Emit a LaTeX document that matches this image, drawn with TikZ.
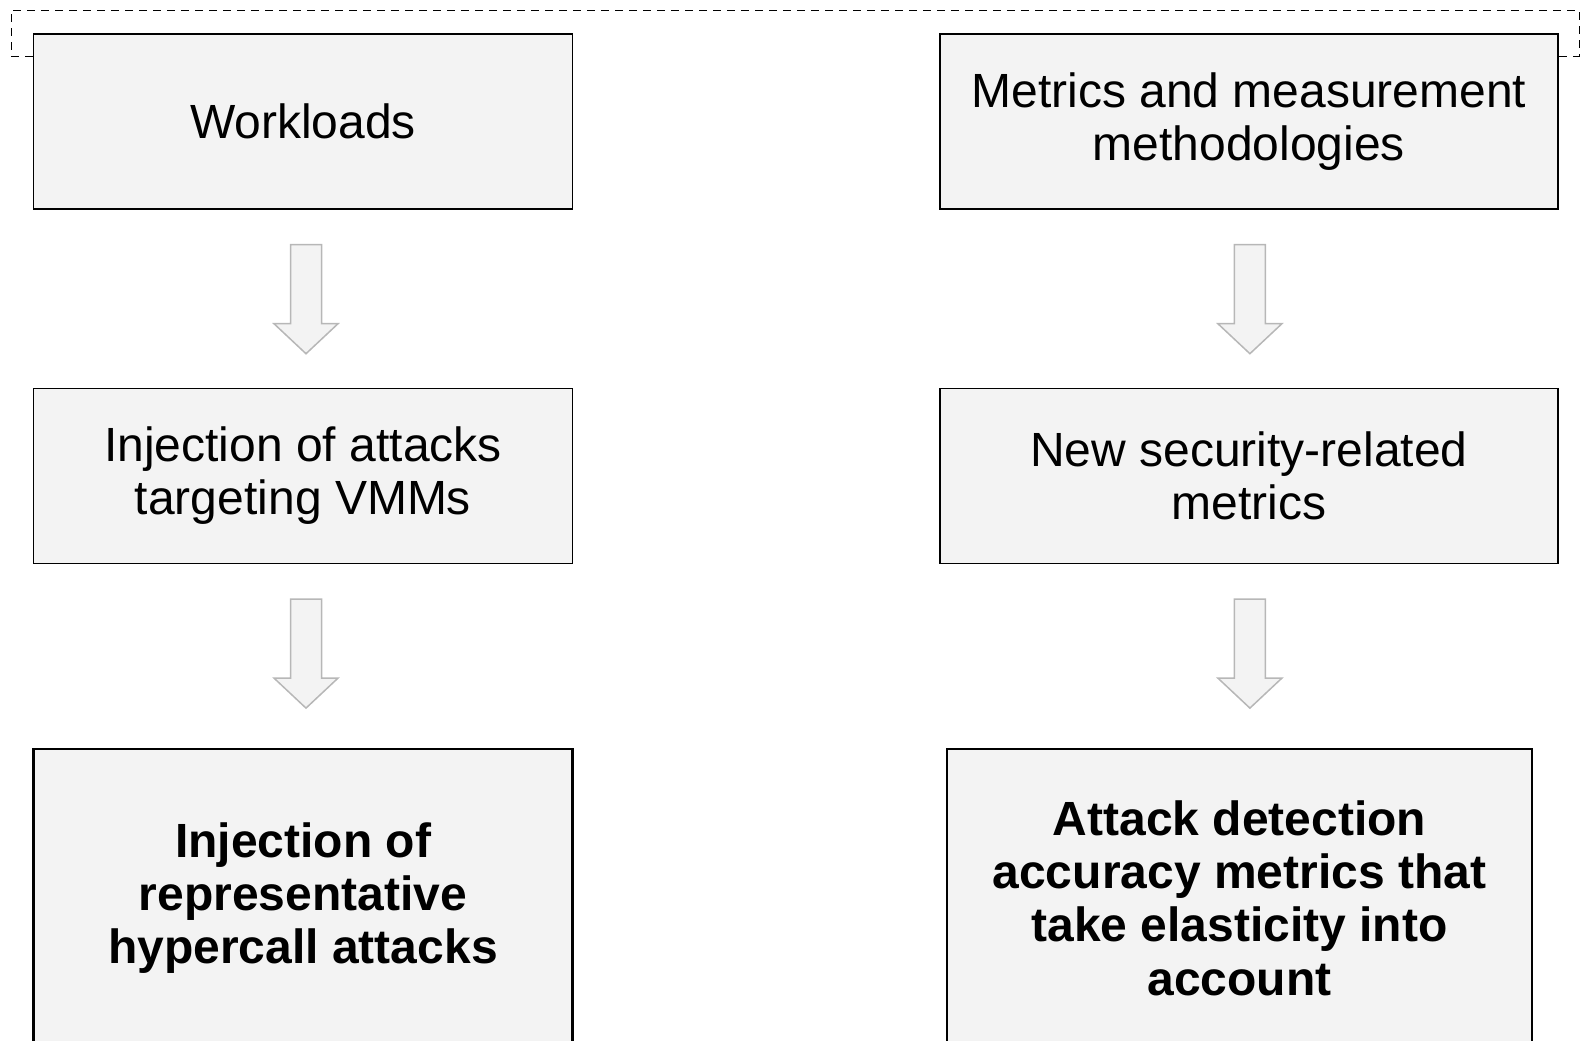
\documentclass[tikz,border=0pt]{standalone}
\usepackage{fontspec}
\setmainfont{Liberation Sans}
\usetikzlibrary{positioning,backgrounds}
\definecolor{boxgray}{HTML}{F3F3F3}
\definecolor{arrowgray}{HTML}{B7B7B7}

\begin{document}
\begin{tikzpicture}[node distance = 89pt and 183pt ,box/.style ={rectangle ,draw ,fill=boxgray ,line width=0.7pt ,align=center ,inner sep=0pt ,minimum width=269.5pt ,minimum height=87.5pt ,font=\fontsize{24}{26.4}\selectfont} ,result/.style ={box ,line width=1.1pt ,minimum height=149pt ,font=\fontsize{24}{26.6}\selectfont\bfseries} ,blockarrow/.style ={draw=arrowgray ,fill=boxgray ,line width=0.75pt} ,frame/.style ={draw ,line width=0.5pt ,dash pattern=on 4pt off 3pt}]
\useasboundingbox (0,0) rectangle (790.5pt,-520pt);
\coordinate (fb) at (0,-28pt);
\node[box] (W) at (151.5pt,-60.75pt) {Workloads};
\node[box] (I) [below = of W] {Injection of attacks\\targeting VMMs};
\node[result] (R) [below = 92pt of I] {Injection of\\representative\\hypercall attacks};
\node[box ,minimum width=309pt] (M) [right = of W] {Metrics and measurement\\methodologies};
\node[box ,minimum width=309pt] (N) [below = of M] {New security-related\\metrics};
\node[result ,minimum width=292.5pt] (A) [below = 92pt of N ,xshift=-4.75pt] {Attack detection\\accuracy metrics that\\take elasticity into\\account};
% dashed frame behind the top boxes
\begin{scope}[on background layer]
\path[frame] (W.west |- fb) -- (5.5pt,-28pt) |- (789.5pt,-5pt) -- (789.5pt,-28pt) -- (M.east |- fb);
\end{scope}
% block arrows
\foreach \a/\dx in {W/1.5pt, I/1.5pt, M/0.5pt, N/0.5pt}
  \draw[blockarrow] ([xshift=\dx ,yshift=-17.5pt]\a.south) -- ++(-7.75pt,0) -- ++(0,-39.5pt) -- ++(-8.25pt,0) -- ++(16pt,-15pt) -- ++(16pt,15pt) -- ++(-8.25pt,0) -- ++(0,39.5pt) -- cycle;
\end{tikzpicture}
\end{document}
